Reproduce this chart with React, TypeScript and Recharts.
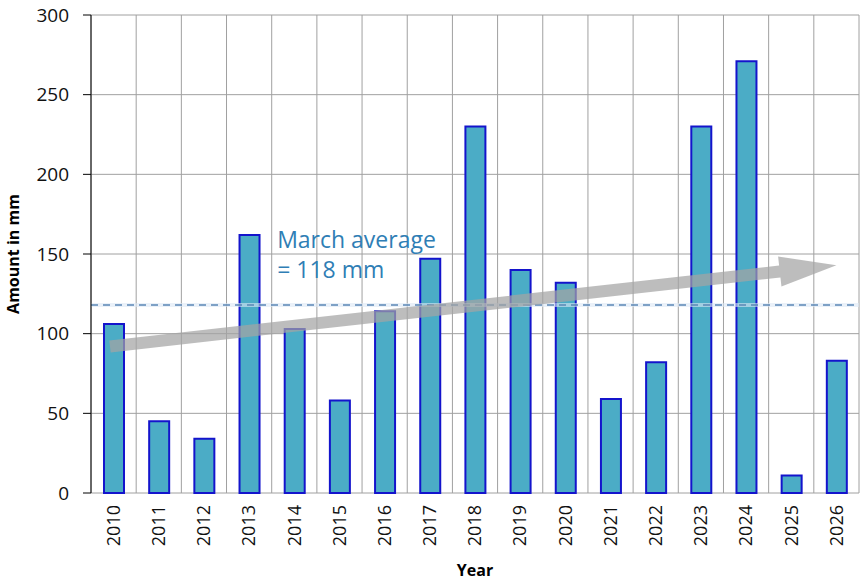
import {
  BarChart,
  Bar,
  XAxis,
  YAxis,
  CartesianGrid,
  ReferenceLine,
  ReferenceDot,
} from "recharts";

// March rainfall per year (mm)
const years = [
  "2010", "2011", "2012", "2013", "2014", "2015", "2016", "2017", "2018",
  "2019", "2020", "2021", "2022", "2023", "2024", "2025", "2026",
];
const amounts = [106, 45, 34, 162, 103, 58, 114, 147, 230, 140, 132, 59, 82, 230, 271, 11, 83];
const yTicks = [0, 50, 100, 150, 200, 250, 300];
const marchAverage = 118;
// trend arrow, start and tip (x in band units, y in mm)
const trendArrow = [
  { x: 0.42, y: 92 },
  { x: 16.5, y: 143 },
];
const bandEdges = Array.from({ length: years.length + 1 }, (_, i) => i);

const data = years.map((year, i) => ({ year, amount: amounts[i] }));

const FONT = "'Open Sans', sans-serif";

function YearTick({ x, y, payload }: any) {
  return (
    <text
      x={x}
      y={y}
      transform={`rotate(-90 ${x} ${y})`}
      textAnchor="end"
      dy="0.35em"
      fontSize={18}
      fontFamily={FONT}
      fill="#111"
    >
      {payload.value}
    </text>
  );
}

function NoTick() {
  return <g />;
}

// thick translucent grey arrow
function TrendArrow(props: any) {
  const { x1, y1, x2, y2 } = props;
  const dx = x2 - x1;
  const dy = y2 - y1;
  const len = Math.sqrt(dx * dx + dy * dy);
  const ux = dx / len;
  const uy = dy / len;
  const nx = -uy;
  const ny = ux;
  const head = 57;
  const shaft = 6;
  const wing = 15;
  const bx = x2 - ux * head;
  const by = y2 - uy * head;
  const pts = [
    [x1 + nx * shaft, y1 + ny * shaft],
    [bx + nx * shaft, by + ny * shaft],
    [bx + nx * wing, by + ny * wing],
    [x2, y2],
    [bx - nx * wing, by - ny * wing],
    [bx - nx * shaft, by - ny * shaft],
    [x1 - nx * shaft, y1 - ny * shaft],
  ]
    .map((p) => p.join(","))
    .join(" ");
  return <polygon points={pts} fill="#a4a4a4" fillOpacity={0.72} />;
}

function AverageNote({ viewBox }: any) {
  const { x, y } = viewBox;
  return (
    <text x={x} y={y} fontSize={23} fontFamily={FONT} fill="#2F7EB5">
      <tspan x={x}>March average</tspan>
      <tspan x={x} dy={30}>= {marchAverage} mm</tspan>
    </text>
  );
}

export default function App() {
  return (
    <div style={{ position: "absolute", left: 0, top: 0, width: 862, height: 581, background: "#fff" }}>
      <BarChart
        width={862}
        height={581}
        data={data}
        margin={{ top: 15, right: 3, left: 0, bottom: 0 }}
      >
        <CartesianGrid xAxisId="grid" stroke="#a0a0a0" strokeWidth={1} />
        <XAxis
          xAxisId="grid"
          type="number"
          dataKey="amount"
          domain={[0, years.length]}
          ticks={bandEdges}
          tick={<NoTick />}
          tickSize={7}
          height={0}
          allowDataOverflow
          axisLine={{ stroke: "#000" }}
          tickLine={{ stroke: "#000" }}
        />
        <XAxis
          dataKey="year"
          height={88}
          axisLine={false}
          tickLine={false}
          tickSize={0}
          tickMargin={12}
          interval={0}
          tick={<YearTick />}
          label={{
            value: "Year",
            position: "insideBottom",
            offset: 5,
            fontSize: 16,
            fontWeight: "bold",
            fontFamily: FONT,
            fill: "#000",
          }}
        />
        <YAxis
          width={91}
          domain={[0, 300]}
          ticks={yTicks}
          tickSize={8}
          tickMargin={14}
          axisLine={{ stroke: "#000" }}
          tickLine={{ stroke: "#000" }}
          tick={{ fontSize: 19, fontFamily: FONT, fill: "#111" }}
          label={{
            value: "Amount in mm",
            angle: -90,
            position: "insideLeft",
            offset: 13,
            fontSize: 16,
            fontWeight: "bold",
            fontFamily: FONT,
            fill: "#000",
            style: { textAnchor: "middle" },
          }}
        />
        <Bar
          dataKey="amount"
          barSize={20}
          fill="#4BACC6"
          stroke="#1414CC"
          strokeWidth={2}
          isAnimationActive={false}
        />
        <ReferenceLine y={marchAverage} stroke="#dce8f5" strokeOpacity={0.6} strokeWidth={4} />
        <ReferenceLine
          y={marchAverage}
          stroke="#5B87B5"
          strokeWidth={1.5}
          strokeDasharray="7 5"
        />
        <ReferenceLine
          xAxisId="grid"
          segment={trendArrow}
          shape={<TrendArrow />}
        />
        <ReferenceDot
          xAxisId="grid"
          x={4.12}
          y={154}
          r={0}
          fill="none"
          stroke="none"
          label={<AverageNote />}
        />
      </BarChart>
    </div>
  );
}
